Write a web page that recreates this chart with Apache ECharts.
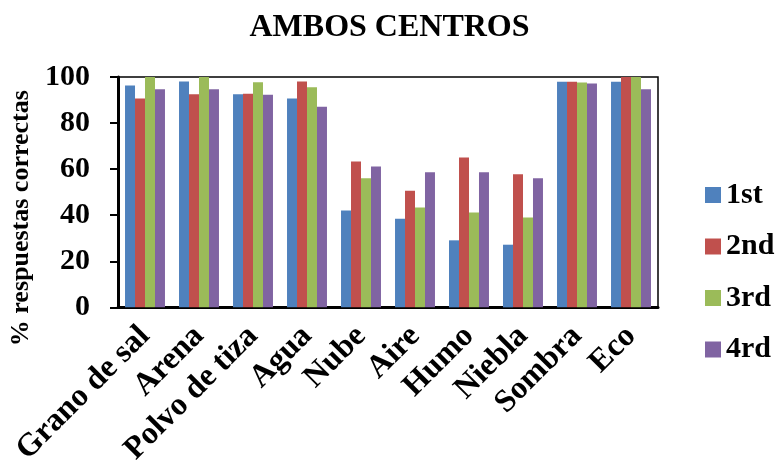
<!DOCTYPE html>
<html>
<head>
<meta charset="utf-8">
<script src="https://cdn.jsdelivr.net/npm/echarts@6/dist/echarts.min.js"></script>
<style>
  html, body { margin: 0; padding: 0; background: #fff; }
  #chart { width: 779px; height: 468px; }
</style>
</head>
<body>
<div id="chart"></div>
<script>
// Percentage of correct answers per item, by course
const categories = ['Grano de sal', 'Arena', 'Polvo de tiza', 'Agua', 'Nube', 'Aire', 'Humo', 'Niebla', 'Sombra', 'Eco'];
const first  = [96.3, 98.0, 92.5, 90.7, 42.1, 38.5, 29.1, 27.2, 97.9, 97.9];
const second = [90.7, 92.5, 92.7, 98.0, 63.3, 50.6, 65.1, 57.8, 97.9, 100];
const third  = [100, 100, 97.7, 95.6, 56.0, 43.4, 41.2, 39.0, 97.6, 100];
const fourth = [94.7, 94.7, 92.3, 87.1, 61.2, 58.6, 58.6, 56.0, 97.2, 94.7];
const seriesNames = ['1st', '2nd', '3rd', '4rd'];
const yTicks = [0, 20, 40, 60, 80, 100];

const serif = '"Liberation Serif", "Times New Roman", serif';
const colors = ['#4F81BD', '#C0504D', '#9BBB59', '#8064A2'];
const values = [first, second, third, fourth];

const chart = echarts.init(document.getElementById('chart'));
chart.setOption({
  animation: false,
  color: colors,
  title: {
    text: 'AMBOS CENTROS',
    left: 'center',
    top: 7,
    textStyle: { fontFamily: serif, fontWeight: 'bold', fontSize: 32, color: '#000' }
  },
  grid: {
    left: 118, right: 121, top: 77, bottom: 160,
    show: true, borderColor: '#000', borderWidth: 1.5, backgroundColor: 'transparent'
  },
  legend: {
    orient: 'vertical',
    left: 700,
    top: 175,
    itemWidth: 16,
    itemHeight: 16,
    itemGap: 21.5,
    icon: 'rect',
    data: seriesNames,
    textStyle: { fontFamily: serif, fontWeight: 'bold', fontSize: 30, color: '#000' }
  },
  xAxis: {
    type: 'category',
    data: categories,
    axisLine: { lineStyle: { color: '#000', width: 3 } },
    axisTick: { show: false },
    axisLabel: {
      rotate: 45,
      interval: 0,
      margin: 24,
      fontFamily: serif, fontWeight: 'bold', fontSize: 32, color: '#000'
    }
  },
  yAxis: {
    type: 'value',
    min: yTicks[0],
    max: yTicks[yTicks.length - 1],
    interval: 20,
    name: '% respuestas correctas',
    nameLocation: 'middle',
    nameGap: 81,
    nameTextStyle: { fontFamily: serif, fontWeight: 'bold', fontSize: 26, color: '#000', padding: [0, 52, 0, 0] },
    splitLine: { show: false },
    axisLine: { show: true, lineStyle: { color: '#000', width: 3 } },
    axisTick: { show: true, length: 8, lineStyle: { color: '#000', width: 2 } },
    axisLabel: { margin: 28, fontFamily: serif, fontWeight: 'bold', fontSize: 30, color: '#000' }
  },
  series: seriesNames.map((name, i) => ({
    name: name,
    type: 'bar',
    data: values[i],
    barGap: '0%',
    barCategoryGap: '26%',
    itemStyle: { color: colors[i] }
  }))
});
</script>
</body>
</html>
